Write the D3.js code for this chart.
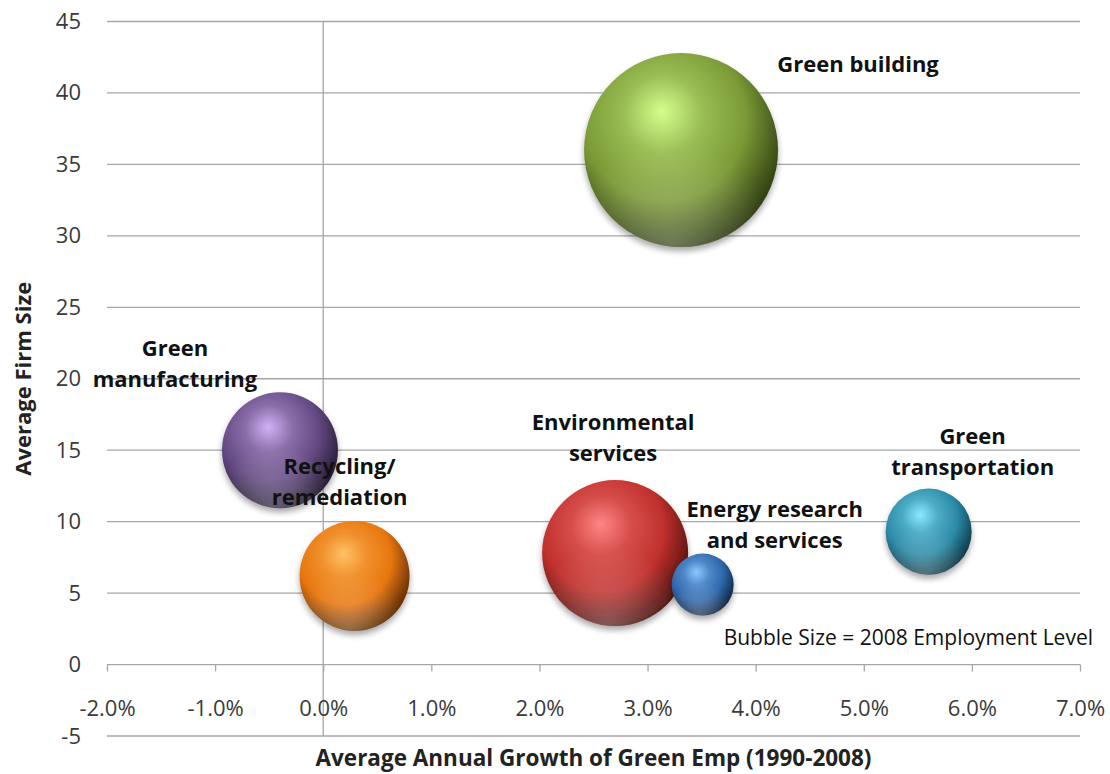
<!DOCTYPE html>
<html><head><meta charset="utf-8">
<script src="https://cdn.jsdelivr.net/npm/d3@7"></script>
<style>body{margin:0;background:#fff;} svg{display:block;}</style>
</head><body><svg id="c" width="1110" height="774"></svg>
<script>
// ---- data ----
const sectors = ["Green building","Green manufacturing","Recycling/remediation","Environmental services","Energy research and services","Green transportation"];
const labelLines = [["Green building"],["Green","manufacturing"],["Recycling/","remediation"],["Environmental","services"],["Energy research","and services"],["Green","transportation"]];
const growth = [0.0331, -0.0040, 0.0029, 0.0270, 0.0351, 0.0560];
const firmSize = [36.0, 15.0, 6.2, 7.8, 5.6, 9.3];
const employment2008 = [98000, 35000, 31500, 55500, 10000, 19300];
const xTicks = [-0.02,-0.01,0,0.01,0.02,0.03,0.04,0.05,0.06,0.07];
const yTicks = [-5,0,5,10,15,20,25,30,35,40,45];
const xTitle = "Average Annual Growth of Green Emp (1990-2008)";
const yTitle = "Average Firm Size";
const note = "Bubble Size = 2008 Employment Level";

// ---- styles / layout ----
const palette = [
  {hi:"#d4ff8c", base:"#7a9a36", dark:"#25310c"},
  {hi:"#d2b0f5", base:"#634a82", dark:"#1e1429"},
  {hi:"#ffc266", base:"#e8760e", dark:"#4f2402"},
  {hi:"#ff8585", base:"#c0302c", dark:"#3e0d0b"},
  {hi:"#8cc8ff", base:"#2f67ab", dark:"#0c1d33"},
  {hi:"#8aeaff", base:"#2c8aa8", dark:"#0b2f3a"}
];
const labelOffsets = [[177,-86],[-105,-102],[-15,-110],[-2,-131],[72,-75],[44,-95]];
const lineH = 31;
const FONT = "'Open Sans'";

const svg = d3.select("#c");
const x = d3.scaleLinear().domain([-0.02,0.07]).range([107,1080]);
const y = d3.scaleLinear().domain([-5,45]).range([736,21.5]);
const r = d3.scaleSqrt().domain([0,98000]).range([0,97]);
const hy = s => s.replace("\u2212","-");

const defs = svg.append("defs");
const sh = defs.append("filter").attr("id","shadow").attr("x","-30%").attr("y","-30%").attr("width","160%").attr("height","170%");
sh.append("feGaussianBlur").attr("in","SourceAlpha").attr("stdDeviation",3);
sh.append("feOffset").attr("dx",0).attr("dy",4).attr("result","b");
sh.append("feComponentTransfer").append("feFuncA").attr("type","linear").attr("slope",0.35);
const m = sh.append("feMerge"); m.append("feMergeNode"); m.append("feMergeNode").attr("in","SourceGraphic");

palette.forEach((p,i)=>{
  const g = defs.append("radialGradient").attr("id","g"+i)
    .attr("cx",0.42).attr("cy",0.36).attr("r",0.68).attr("fx",0.4).attr("fy",0.3);
  g.append("stop").attr("offset","0%").attr("stop-color",p.hi);
  g.append("stop").attr("offset","30%").attr("stop-color",d3.interpolateRgb(p.hi,p.base)(0.65));
  g.append("stop").attr("offset","62%").attr("stop-color",p.base);
  g.append("stop").attr("offset","84%").attr("stop-color",d3.interpolateRgb(p.base,p.dark)(0.6));
  g.append("stop").attr("offset","100%").attr("stop-color",p.dark);
});
const rim = defs.append("radialGradient").attr("id","rim").attr("cx",0.45).attr("cy",1.0).attr("r",0.55);
rim.append("stop").attr("offset","0%").attr("stop-color","#fff").attr("stop-opacity",0.28);
rim.append("stop").attr("offset","100%").attr("stop-color","#fff").attr("stop-opacity",0);

// gridlines
svg.append("g").selectAll("line").data(yTicks).join("line")
  .attr("x1",x(-0.02)).attr("x2",x(0.07)).attr("y1",d=>y(d)).attr("y2",d=>y(d))
  .attr("stroke","#a6a6a6").attr("stroke-width",1.3);
// vertical axis line at x=0
svg.append("line").attr("x1",x(0)).attr("x2",x(0)).attr("y1",y(45)).attr("y2",y(-5))
  .attr("stroke","#a6a6a6").attr("stroke-width",1.3);

// x axis at y=0
const xAxis = svg.append("g").attr("transform",`translate(0,${y(0)})`)
  .call(d3.axisBottom(x).tickValues(xTicks).tickFormat(d=>hy(d3.format(".1%")(d))).tickSize(7).tickPadding(29));
xAxis.select(".domain").remove();
xAxis.selectAll("line").attr("stroke","#a6a6a6").attr("stroke-width",1.3);
xAxis.selectAll("text").attr("font-family",FONT).attr("font-size",22).attr("fill","#3a3a3a");

// y axis labels
const yAxis = svg.append("g").attr("transform",`translate(${x(-0.02)},0)`)
  .call(d3.axisLeft(y).tickValues(yTicks).tickFormat(d=>hy(d3.format("d")(d))).tickSize(0).tickPadding(26));
yAxis.select(".domain").remove();
yAxis.selectAll("text").attr("font-family",FONT).attr("font-size",22).attr("fill","#3a3a3a");

// bubbles
const idx = d3.range(sectors.length);
const bub = svg.append("g").selectAll("g").data(idx).join("g");
bub.append("circle").attr("cx",i=>x(growth[i])).attr("cy",i=>y(firmSize[i])).attr("r",i=>r(employment2008[i]))
  .attr("fill",i=>`url(#g${i})`).attr("filter","url(#shadow)");
bub.append("circle").attr("cx",i=>x(growth[i])).attr("cy",i=>y(firmSize[i])).attr("r",i=>r(employment2008[i]))
  .attr("fill","url(#rim)");

// labels
const lab = svg.append("g").attr("font-family",FONT).attr("font-weight","bold").attr("font-size",22).attr("fill","#111").attr("text-anchor","middle");
idx.forEach(i=>{
  labelLines[i].forEach((t,k)=>{
    lab.append("text").attr("x",x(growth[i])+labelOffsets[i][0])
      .attr("y",y(firmSize[i])+labelOffsets[i][1]+k*lineH).attr("dy","0.35em").text(t);
  });
});

// note
svg.append("text").attr("x",x(0.07)+13).attr("y",638).attr("dy","0.35em").attr("text-anchor","end")
  .attr("font-family",FONT).attr("font-size",21).attr("fill","#111").text(note);

// titles
svg.append("text").attr("x",(x(-0.02)+x(0.07))/2).attr("y",758).attr("dy","0.35em").attr("text-anchor","middle")
  .attr("font-family",FONT).attr("font-weight","bold").attr("font-size",22.5).attr("fill","#222").text(xTitle);
svg.append("text").attr("transform",`translate(23,${(y(45)+y(-5))/2}) rotate(-90)`).attr("dy","0.35em").attr("text-anchor","middle")
  .attr("font-family",FONT).attr("font-weight","bold").attr("font-size",22).attr("fill","#222").text(yTitle);
</script></body></html>
